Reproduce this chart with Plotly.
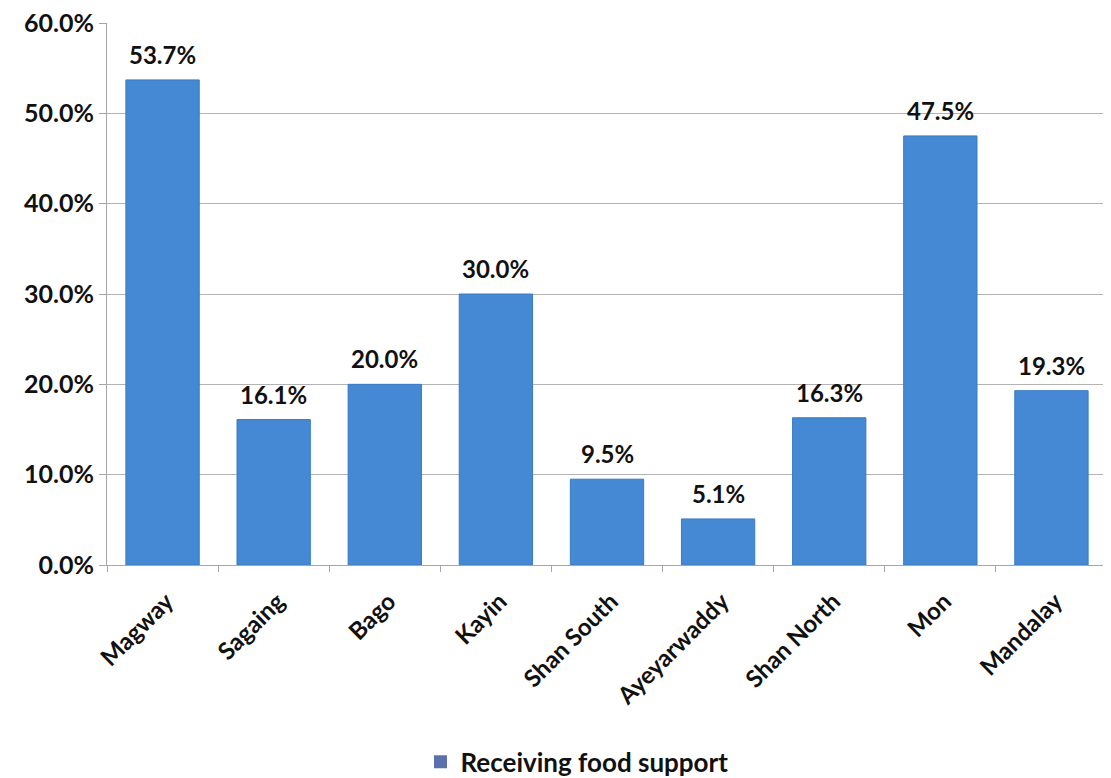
import plotly.graph_objects as go

regions = ["Magway", "Sagaing", "Bago", "Kayin", "Shan South", "Ayeyarwaddy",
           "Shan North", "Mon", "Mandalay"]
receiving_food_support = [53.7, 16.1, 20.0, 30.0, 9.5, 5.1, 16.3, 47.5, 19.3]
y_tick_values = [0, 10, 20, 30, 40, 50, 60]
y_tick_labels = ["0.0%", "10.0%", "20.0%", "30.0%", "40.0%", "50.0%", "60.0%"]
series_name = "Receiving food support"

FONT = "Lato, 'Open Sans', 'DejaVu Sans', sans-serif"
FS = 25

fig = go.Figure()
fig.add_trace(go.Bar(
    x=regions,
    y=receiving_food_support,
    name=series_name,
    showlegend=False,
    marker=dict(color="#4589d4", line=dict(color="#3a7bc3", width=1)),
))
# legend-only entry (small grey-blue square as in the reference)
fig.add_trace(go.Scatter(
    x=[None], y=[None], mode="markers", name=series_name,
    marker=dict(symbol="square", size=13, color="#5b70ad"),
))

for r, v in zip(regions, receiving_food_support):
    fig.add_annotation(x=r, y=v, text=f"{v:.1f}%", showarrow=False,
                       yanchor="bottom", yshift=9,
                       font=dict(family=FONT, size=24, color="#111111", weight="bold"))

# page body has an 8px default margin: size the figure so the plot sits where the reference's does
fig.update_layout(
    width=1103, height=770,
    margin=dict(l=99, r=4, t=15, b=213),
    paper_bgcolor="white", plot_bgcolor="white",
    bargap=0.34,
    font=dict(family=FONT, size=FS, color="#111111", weight="bold"),
    showlegend=True,
    legend=dict(orientation="h", x=0.47, xanchor="center",
                yref="container", y=0.021, yanchor="middle",
                font=dict(family=FONT, size=26, color="#111111", weight="bold"),
                itemwidth=30),
    xaxis=dict(
        tickangle=-45, showgrid=False, showline=True, linecolor="#a6a6a6", linewidth=1,
        ticks="outside", tickson="boundaries", ticklen=6, tickcolor="#a6a6a6",
        tickfont=dict(family=FONT, size=24, color="#111111", weight="bold"),
        automargin=False, ticklabelstandoff=12, ticklabelshift=4,
        ticklabeloverflow="allow",
    ),
    yaxis=dict(
        range=[0, 60], tickvals=y_tick_values, ticktext=y_tick_labels,
        showgrid=True, gridcolor="#b3b3b3", gridwidth=1,
        showline=True, linecolor="#a6a6a6", linewidth=1,
        ticks="outside", ticklen=7, tickcolor="#a6a6a6",
        tickfont=dict(family=FONT, size=FS, color="#111111", weight="bold"),
        zeroline=False, automargin=False, ticklabeloverflow="allow",
    ),
)

fig.write_html("out.html")
